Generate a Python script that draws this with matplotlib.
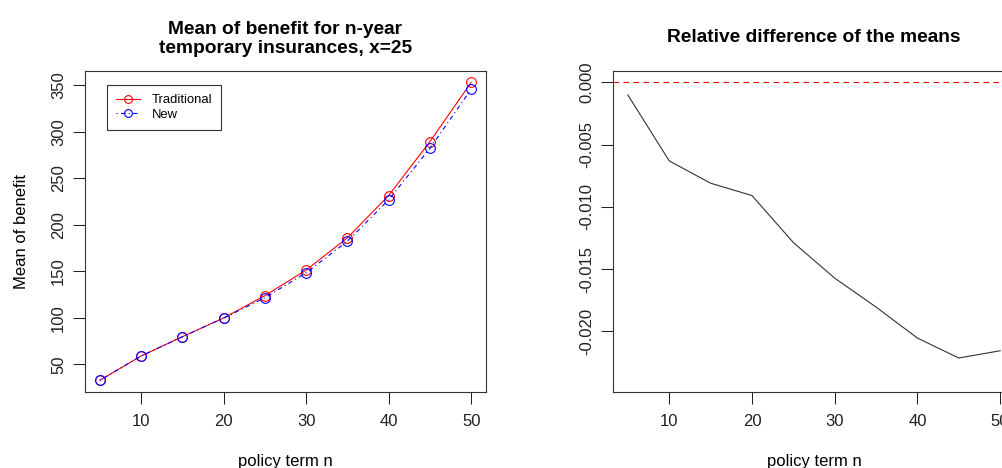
import matplotlib.pyplot as plt

plt.rcParams['font.family'] = ['Liberation Sans', 'DejaVu Sans']

# policy term n
terms = [5, 10, 15, 20, 25, 30, 35, 40, 45, 50]

# mean of benefit, x=25
mean_traditional = [32.8, 58.9, 79.7, 99.8, 123.8, 151.3, 186.0, 231.5, 289.5, 353.2]
mean_new = [32.8, 58.9, 79.6, 99.7, 121.6, 148.4, 182.4, 226.9, 282.3, 345.7]

# relative difference of the means
rel_diff = [-0.00102, -0.00631, -0.0081, -0.00909, -0.01286,
            -0.01572, -0.01804, -0.02053, -0.02213, -0.02155]

W, H = 1003, 468
fig = plt.figure(figsize=(W / 100, H / 100), dpi=100)


def px_axes(left, top, right, bottom):
    return fig.add_axes([left / W, 1 - bottom / H, (right - left) / W, (bottom - top) / H])


def r_style(ax, xticks, yticks, yfmt):
    ax.set_xticks(xticks)
    ax.set_yticks(yticks)
    ax.set_yticklabels([yfmt(v) for v in yticks], rotation=90, va='center')
    ax.tick_params(direction='out', length=8.5, width=0.75, labelsize=12, colors='#222222')
    ax.tick_params(axis='x', pad=7)
    ax.tick_params(axis='y', pad=5)
    for s in ax.spines.values():
        s.set_linewidth(0.8)
        s.set_color('#333333')


# left panel
ax1 = px_axes(85, 70.7, 486, 392)
ax1.plot(terms, mean_traditional, color='red', lw=0.8, marker='o', ms=7,
         mfc='none', mew=0.8, label='Traditional')
ax1.plot(terms, mean_new, color='blue', lw=0.8, ls=(0, (1, 3, 4, 3)), marker='o', ms=7,
         mfc='none', mew=0.8, label='New')
ax1.set_xlim(3.2, 51.8)
ax1.set_ylim(20.2, 365.8)
r_style(ax1, [10, 20, 30, 40, 50], [50, 100, 150, 200, 250, 300, 350], lambda v: f'{v:d}')
ax1.set_title('Mean of benefit for n-year\ntemporary insurances, x=25',
              fontsize=13.8, fontweight='bold', pad=13, linespacing=1.1)
ax1.set_xlabel('policy term n', fontsize=12, labelpad=18)
ax1.set_ylabel('Mean of benefit', fontsize=12, labelpad=16)
leg = ax1.legend(loc='upper left', bbox_to_anchor=(0.055, 0.955), fontsize=9.4,
                 fancybox=False, framealpha=1, edgecolor='#333333', borderaxespad=0,
                 handlelength=1.8, borderpad=0.7, labelspacing=0.15, handletextpad=0.9,
                 markerscale=0.8)
leg.get_frame().set_linewidth(0.8)

# right panel (extends past the right edge, as in the original)
ax2 = px_axes(613, 70.7, 1015, 392)
ax2.axhline(0, color='red', lw=0.8, ls=(0, (5, 4)))
ax2.plot(terms, rel_diff, color='#333333', lw=0.8)
ax2.set_xlim(3.2, 51.8)
ax2.set_ylim(-0.02486, 0.00093)
r_style(ax2, [10, 20, 30, 40, 50], [0.0, -0.005, -0.010, -0.015, -0.020], lambda v: f'{v:.3f}')
ax2.set_title('Relative difference of the means', fontsize=13.8, fontweight='bold', pad=21)
ax2.set_xlabel('policy term n', fontsize=12, labelpad=18)

fig.savefig('out.png', dpi=100)
